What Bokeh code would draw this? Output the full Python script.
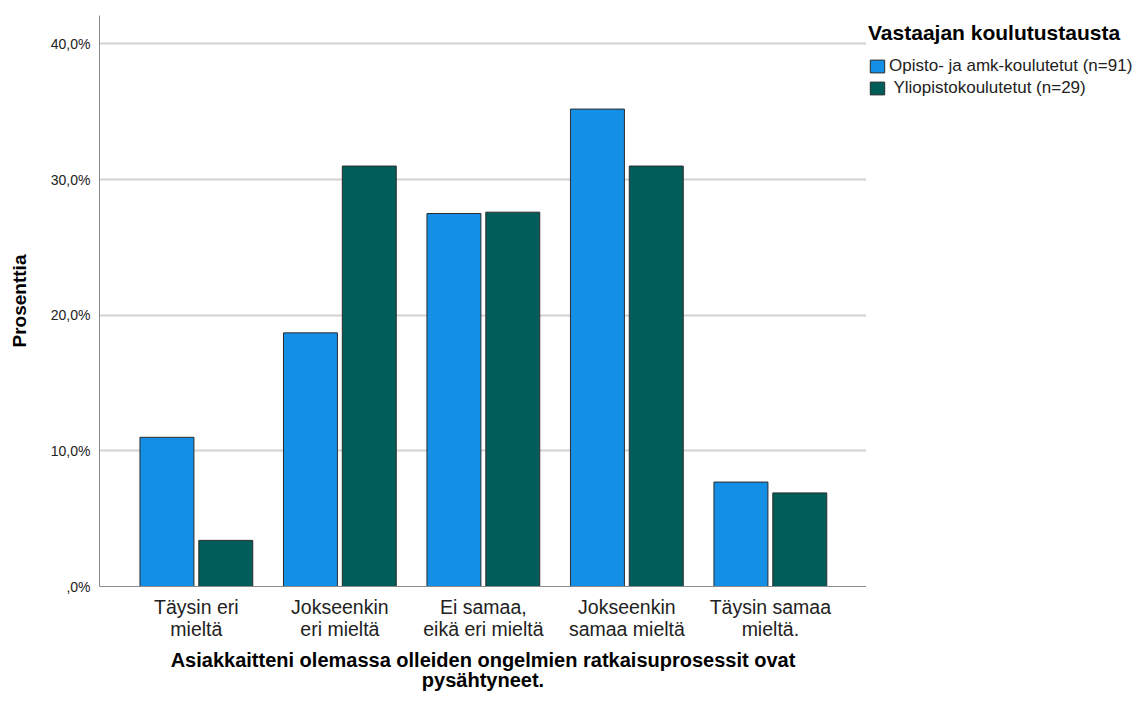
from bokeh.plotting import figure
from bokeh.layouts import row
from bokeh.models import ColumnDataSource, FixedTicker, Legend, LegendItem, Range1d
from bokeh.transform import dodge
from bokeh.embed import file_html
from bokeh.resources import INLINE

categories = ["Täysin eri\nmieltä", "Jokseenkin\neri mieltä", "Ei samaa,\neikä eri mieltä",
              "Jokseenkin\nsamaa mieltä", "Täysin samaa\nmieltä."]
opisto = [11.0, 18.7, 27.5, 35.2, 7.7]
yliopisto = [3.4, 31.0, 27.6, 31.0, 6.9]
series_names = ["Opisto- ja amk-koulutetut (n=91)", " Yliopistokoulutetut (n=29)"]
colors = ["#148fe6", "#005e5a"]
y_ticks = [0, 10, 20, 30, 40]
y_tick_labels = [",0%", "10,0%", "20,0%", "30,0%", "40,0%"]
x_title = "Asiakkaitteni olemassa olleiden ongelmien ratkaisuprosessit ovat\npysähtyneet."
y_title = "Prosenttia"
legend_title = "Vastaajan koulutustausta"

xs = list(range(1, len(categories) + 1))
src = ColumnDataSource(dict(x=xs, a=opisto, b=yliopisto))

FONT = "Liberation Sans"
H = 702
p = figure(width=866, height=H, output_backend="svg", toolbar_location=None,
           x_range=Range1d(0.325, 5.67), y_range=Range1d(0, 42.1),
           min_border_left=99, min_border_right=0, min_border_top=15, min_border_bottom=116)
p.outline_line_color = None
p.background_fill_color = "white"

ra = p.vbar(x=dodge("x", -0.205, range=p.x_range), top="a", width=0.376, bottom=0, source=src,
            fill_color=colors[0], line_color="#2b2b2b", line_width=1)
rb = p.vbar(x=dodge("x", 0.205, range=p.x_range), top="b", width=0.376, bottom=0, source=src,
            fill_color=colors[1], line_color="#2b2b2b", line_width=1)

p.xgrid.visible = False
p.ygrid.ticker = FixedTicker(ticks=y_ticks[1:])
p.ygrid.grid_line_color = "#d2d2d2"
p.ygrid.grid_line_width = 2

p.yaxis.ticker = FixedTicker(ticks=y_ticks)
p.yaxis.major_label_overrides = {t: l for t, l in zip(y_ticks, y_tick_labels)}
p.xaxis.ticker = FixedTicker(ticks=xs)
p.xaxis.major_label_overrides = {x: c for x, c in zip(xs, categories)}
for ax in (p.xaxis, p.yaxis):
    ax.major_tick_out = 0
    ax.major_tick_in = 0
    ax.minor_tick_out = 0
    ax.minor_tick_in = 0
    ax.axis_line_color = "#8a8a8a"
    ax.major_label_text_font = FONT
    ax.major_label_text_color = "#222222"
    ax.axis_label_text_font = FONT
    ax.axis_label_text_font_style = "bold"
    ax.axis_label_text_color = "#000000"

p.yaxis.major_label_text_font_size = "14px"
p.yaxis.major_label_standoff = 9
p.yaxis.axis_label = y_title
p.yaxis.axis_label_text_font_size = "19px"
p.yaxis.axis_label_standoff = 18

p.xaxis.major_label_text_font_size = "19.5px"
p.xaxis.major_label_text_line_height = 1.0
p.xaxis.major_label_standoff = 9
p.xaxis.axis_label = x_title
p.xaxis.axis_label_text_font_size = "20px"
p.xaxis.axis_label_text_line_height = 0.95
p.xaxis.axis_label_standoff = 6

# legend panel (separate canvas to the right of the plot area); its glyphs use the
# same data but lie outside this canvas's ranges, so only the legend is visible
q = figure(width=272, height=H, output_backend="svg", toolbar_location=None,
           x_range=Range1d(-20, -19), y_range=Range1d(-20, -19),
           min_border_left=0, min_border_right=0, min_border_top=15, min_border_bottom=116)
q.axis.visible = False
q.grid.visible = False
q.outline_line_color = None
la = q.vbar(x="x", top="a", width=0.376, bottom=0, source=src,
            fill_color=colors[0], line_color="#2b2b2b", line_width=1)
lb = q.vbar(x="x", top="b", width=0.376, bottom=0, source=src,
            fill_color=colors[1], line_color="#2b2b2b", line_width=1)
legend = Legend(items=[LegendItem(label=series_names[0], renderers=[la]),
                       LegendItem(label=series_names[1], renderers=[lb])],
                location=(2, 488), title=legend_title,
                title_text_font=FONT, title_text_font_style="bold", title_text_font_size="21px",
                title_text_color="#000000", title_standoff=11,
                label_text_font=FONT, label_text_font_size="17px", label_text_color="#222222",
                glyph_width=18, glyph_height=16, label_height=16, spacing=2, label_standoff=3,
                padding=0, margin=0, border_line_color=None, background_fill_alpha=0)
q.add_layout(legend)

layout = row(p, q)
open("out.html", "w").write(file_html(layout, INLINE))
